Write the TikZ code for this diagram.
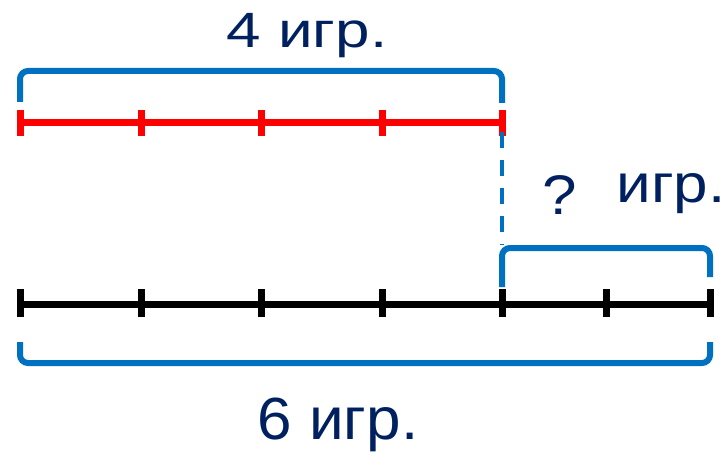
\documentclass[tikz,border=0pt]{standalone}
\usepackage{fontspec}
\setmainfont{Liberation Sans}
\usepackage{xcolor}
\definecolor{navytext}{HTML}{002060}
\definecolor{bracketblue}{HTML}{0070C0}

\begin{document}
\begin{tikzpicture}[x=1pt, y=1pt,
    segline/.style={line width=7pt},
    bracket/.style={bracketblue, line width=6pt, rounded corners=8pt},
    lbl/.style={text=navytext, font=\fontsize{62}{74}\selectfont, inner sep=0pt, anchor=base, transform shape}]
  \useasboundingbox (0,0) rectangle (725,453);
  % red segment, 4 parts
  \draw[red, segline] (20,330) -- (502,330);
  \foreach \x in {20,141,261,382,502}
    \draw[red, segline] (\x,317) -- (\x,343);
  % black segment, 6 parts
  \draw[black, segline] (20,149) -- (710,149);
  \foreach \x in {20,141,261,382,502,606,710}
    \draw[black, segline] (\x,136) -- (\x,164);
  % brackets
  \draw[bracket] (20,351) -- (20,382) -- (502,382) -- (502,350);
  \draw[bracketblue, line width=3.5pt, dash pattern=on 16pt off 12pt] (502,321) -- (502,208);
  \draw[bracket] (502,166) -- (502,205) -- (710,205) -- (710,176);
  \draw[bracket] (20,111) -- (20,90) -- (710,90) -- (710,111);
  % labels
  \node[lbl, yscale=0.8] (top) at (307,405) {4 игр.};
  \node[lbl, yscale=0.9] (quest) at (560,239) {?};
  \node[lbl, yscale=0.87] (part) at (671,250) {игр.};
  \node[lbl, yscale=0.96] (bottom) at (338,13.5) {6 игр.};
\end{tikzpicture}
\end{document}
